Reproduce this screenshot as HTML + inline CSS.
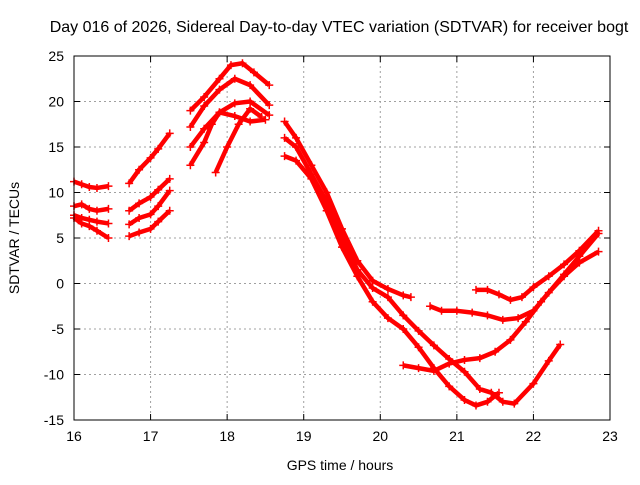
<!DOCTYPE html>
<html><head><meta charset="utf-8"><style>
body{margin:0;background:#fff;}
svg text{font-family:"Liberation Sans",sans-serif;font-size:14px;fill:#000;}
</style></head><body>
<svg id="chart" width="640" height="480" xmlns="http://www.w3.org/2000/svg">
<text x="339" y="32" text-anchor="middle" style="font-size:16px">Day 016 of 2026, Sidereal Day-to-day VTEC variation (SDTVAR) for receiver bogt</text>
<text x="340" y="470" text-anchor="middle">GPS time / hours</text>
<text transform="translate(19,238) rotate(-90)" text-anchor="middle">SDTVAR / TECUs</text>
<g id="grid"></g>
<g id="axes"></g>
<g id="series"></g>
<rect x="74" y="56" width="536" height="364" fill="none" stroke="#000" stroke-width="1"/>
</svg>
<script>
const xTicks=[16,17,18,19,20,21,22,23];
const yTicks=[25,20,15,10,5,0,-5,-10,-15];
const arcs=[
 [[16,11.2],[16.1,10.9],[16.2,10.6],[16.3,10.5],[16.45,10.7]],
 [[16,8.5],[16.1,8.7],[16.2,8.2],[16.3,8],[16.45,8.2]],
 [[16,7.5],[16.1,7.2],[16.2,7],[16.3,6.8],[16.45,6.6]],
 [[16,7.2],[16.1,6.6],[16.2,6.3],[16.3,5.8],[16.45,5]],
 [[16.72,11],[16.85,12.5],[17,13.8],[17.1,14.8],[17.25,16.5]],
 [[16.72,8],[16.85,8.8],[17,9.5],[17.1,10.3],[17.25,11.5]],
 [[16.72,6.5],[16.85,7.2],[17,7.6],[17.1,8.5],[17.25,10.2]],
 [[16.72,5.2],[16.85,5.6],[17,6],[17.1,6.8],[17.25,8]],
 [[17.52,19],[17.7,20.5],[17.9,22.5],[18.05,24],[18.2,24.2],[18.35,23.2],[18.55,21.8]],
 [[17.52,17.2],[17.7,19.5],[17.9,21.3],[18.1,22.5],[18.3,21.8],[18.55,19.6]],
 [[17.52,15],[17.7,17],[17.9,18.8],[18.1,19.8],[18.3,20],[18.55,18.5]],
 [[17.52,13],[17.7,15.5],[17.8,17.5],[17.9,18.8],[18.1,18.4],[18.3,17.8],[18.5,18]],
 [[17.85,12.2],[18,15],[18.15,17.5],[18.3,19.2],[18.45,18.3]],
 [[18.75,17.8],[18.9,16],[19.1,13],[19.3,10],[19.5,6],[19.7,2.5],[19.9,0.3],[20.1,-0.6],[20.3,-1.3],[20.4,-1.5]],
 [[18.75,16],[18.9,15],[19.1,12],[19.3,9],[19.5,5],[19.7,1.5],[19.9,-0.5],[20.1,-1.5],[20.3,-3.5],[20.5,-5.2],[20.7,-6.8],[20.9,-8.3],[21.1,-9.7],[21.3,-11.6],[21.45,-12],[21.6,-13],[21.75,-13.2],[22,-11],[22.2,-8.5],[22.35,-6.7]],
 [[18.75,14],[18.9,13.5],[19.1,11.5],[19.3,8],[19.5,4],[19.7,0.8],[19.9,-2],[20.1,-3.8],[20.3,-5],[20.5,-7],[20.7,-9.3],[20.9,-11.3],[21.1,-12.8],[21.25,-13.4],[21.4,-13],[21.55,-12]],
 [[20.3,-9],[20.5,-9.3],[20.7,-9.6],[20.9,-8.8],[21.1,-8.4],[21.3,-8.2],[21.5,-7.5],[21.7,-6.2],[21.9,-4.2],[22.1,-2],[22.4,1],[22.6,3],[22.85,5.5]],
 [[20.65,-2.5],[20.8,-3],[21,-3],[21.2,-3.2],[21.4,-3.5],[21.6,-4],[21.8,-3.8],[22,-3],[22.2,-1],[22.4,0.8],[22.6,2.3],[22.85,3.5]],
 [[21.25,-0.7],[21.4,-0.7],[21.55,-1.2],[21.7,-1.8],[21.85,-1.5],[22,-0.4],[22.2,0.8],[22.4,2.1],[22.6,3.6],[22.85,5.8]]
];
const NS="http://www.w3.org/2000/svg";
const X=v=>74+(v-16)*536/7, Y=v=>56+(25-v)*364/40;
const grid=document.getElementById('grid'),axes=document.getElementById('axes'),ser=document.getElementById('series');
function mk(t,a,p){const e=document.createElementNS(NS,t);for(const k in a)e.setAttribute(k,a[k]);p.appendChild(e);return e;}
xTicks.forEach(t=>{
 const gl=mk('line',{x1:X(t),x2:X(t),y1:56,y2:420,stroke:'#a0a0a0','stroke-dasharray':'2,3'},grid);
 
 
 mk('line',{x1:X(t),x2:X(t),y1:420,y2:414,stroke:'#000'},axes);
 mk('line',{x1:X(t),x2:X(t),y1:56,y2:62,stroke:'#000'},axes);
 const tx=mk('text',{x:X(t),y:441,'text-anchor':'middle'},axes);tx.textContent=t;
 
 
});
yTicks.forEach(t=>{
 const gl=mk('line',{x1:74,x2:610,y1:Y(t),y2:Y(t),stroke:'#a0a0a0','stroke-dasharray':'2,3'},grid);
 
 
 mk('line',{x1:74,x2:80,y1:Y(t),y2:Y(t),stroke:'#000'},axes);
 mk('line',{x1:604,x2:610,y1:Y(t),y2:Y(t),stroke:'#000'},axes);
 const tx=mk('text',{x:64,y:Y(t)+5,'text-anchor':'end'},axes);tx.textContent=t;
 
 
});
arcs.forEach(a=>{
 const p=mk('polyline',{points:a.map(d=>X(d[0])+','+Y(d[1])).join(' '),fill:'none',stroke:'#f00','stroke-width':4.5,'stroke-linejoin':'round'},ser);
 
 
 a.forEach(d=>{
  const m=mk('path',{d:`M${X(d[0])-4},${Y(d[1])}h8M${X(d[0])},${Y(d[1])-4}v8`,stroke:'#f00','stroke-width':1.5},ser);
  
  
 });
});
</script>
</body></html>
